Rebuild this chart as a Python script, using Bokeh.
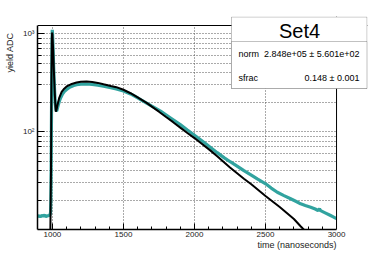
from bokeh.plotting import figure
from bokeh.models import (Range1d, FixedTicker, CustomJSTickFormatter, Label, BoxAnnotation,
                          Span, Title)
from bokeh.embed import file_html
from bokeh.resources import INLINE

# ---- data ----
data_t = [895, 905, 915, 925, 935, 945, 955, 965, 975, 983, 987, 989, 991, 993, 995, 997,
          999, 1001, 1004, 1008, 1012, 1016, 1020, 1025, 1029, 1033, 1040, 1050, 1060, 1071,
          1085, 1100, 1115, 1130, 1150, 1170, 1200, 1240, 1280, 1320, 1360, 1411, 1450, 1500,
          1550, 1600, 1663, 1700, 1761, 1832, 1900, 1950, 2000, 2066, 2113, 2160, 2210, 2254,
          2300, 2348, 2400, 2442, 2501, 2540, 2583, 2630, 2677, 2720, 2747, 2780, 2818, 2850,
          2870, 2880, 2888, 2920, 2958, 2980, 3000]
data_y = [13.6, 13.8, 13.5, 13.9, 13.7, 14.0, 13.6, 13.8, 13.9, 14.1, 15, 20, 40, 110, 350, 800,
          1100, 1000, 760, 500, 340, 250, 195, 168, 162, 168, 185, 207, 225, 242,
          258, 270, 280, 288, 296, 302, 306, 307, 304, 299, 291, 281, 273, 260,
          243, 222, 196, 182, 162, 138, 118, 104, 92, 78, 69, 61, 54, 49,
          44.5, 40, 36, 32.9, 29.3, 26.5, 24, 22.2, 20.6, 19.2, 18.3, 17.6, 16.9, 16.2,
          15.6, 16.3, 15.6, 14.8, 13.9, 13.4, 12.9]

fit_t = [985, 990, 993, 996, 998, 1000, 1005, 1010, 1015, 1020, 1024, 1028, 1035, 1048, 1065,
         1083, 1100, 1130, 1170, 1200, 1240, 1280, 1320, 1360, 1411, 1450, 1500, 1550, 1600,
         1663, 1700, 1750, 1800, 1850, 1900, 1950, 2000, 2113, 2160, 2250, 2348, 2400, 2500,
         2600, 2700, 2747, 2800, 2900]
fit_y = [8, 40, 300, 900, 1030, 980, 700, 430, 280, 195, 160, 165, 185, 222, 255,
         275, 290, 305, 318, 324, 326, 322, 315, 305, 293, 285, 268, 247, 224,
         197, 180, 160, 141, 125, 110, 97, 86, 64, 56, 43, 33, 29, 22,
         17, 12.8, 10.8, 9.0, 7]

x_major = [1000, 1500, 2000, 2500, 3000]
x_minor = [1100, 1200, 1300, 1400, 1600, 1700, 1800, 1900, 2100, 2200, 2300, 2400,
           2600, 2700, 2800, 2900]
y_major = [100, 1000]
y_minor = [20, 30, 40, 50, 60, 70, 80, 90, 200, 300, 400, 500, 600, 700, 800, 900]

title_text = "Set4"
stat_names = ["norm", "sfrac"]
stat_values = ["2.848e+05 \u00b1 5.601e+02", "0.148 \u00b1 0.001"]
x_title = "time (nanoseconds)"
y_title = "yield ADC"

# visible axes limits; the frame itself is a bit larger so the stats box can overlap it
X0, X1 = 895, 3000
Y0, Y1 = 10, 1216
X_EXT, Y_EXT = 3218, 1503

FONT = "Liberation Sans"

p = figure(width=374, height=255, x_range=Range1d(X0, X_EXT), y_range=Range1d(Y0, Y_EXT),
           y_axis_type="log", output_backend="svg", toolbar_location=None,
           min_border_left=37, min_border_right=7, min_border_top=16, min_border_bottom=26)
p.background_fill_color = "white"
p.border_fill_color = "white"
p.outline_line_color = None

xt = FixedTicker(ticks=x_major, minor_ticks=x_minor)
yt = FixedTicker(ticks=y_major, minor_ticks=y_minor)
p.xaxis.ticker = xt
p.yaxis.ticker = yt
p.xaxis.bounds = (X0, X1)
p.yaxis.bounds = (Y0, Y1)
p.xgrid.ticker = FixedTicker(ticks=[1000, 1500, 2000, 2500])
p.ygrid.ticker = yt

p.yaxis.formatter = CustomJSTickFormatter(code="""
const sup = {'0':'\u2070','1':'\u00b9','2':'\u00b2','3':'\u00b3','4':'\u2074','5':'\u2075','6':'\u2076','7':'\u2077','8':'\u2078','9':'\u2079'};
const e = Math.round(Math.log10(tick)).toString();
return '10' + e.split('').map(c => sup[c]).join('');
""")

for ax in (p.xaxis[0], p.yaxis[0]):
    ax.axis_line_color = "black"
    ax.axis_line_width = 1.5
    ax.major_tick_out = 0
    ax.minor_tick_out = 0
    ax.major_tick_line_color = "black"
    ax.minor_tick_line_color = "black"
    ax.major_label_text_font = FONT
    ax.major_label_text_font_size = "8px"
    ax.major_label_text_color = "#222222"
p.xaxis.major_tick_in = 6
p.xaxis.minor_tick_in = 3
p.yaxis.major_tick_in = 7
p.yaxis.minor_tick_in = 4
p.xaxis.major_label_standoff = 2
p.yaxis.major_label_standoff = 3

for g in (p.xgrid[0], p.ygrid[0]):
    g.grid_line_color = "#555555"
    g.grid_line_dash = "1 2"
    g.grid_line_width = 1
p.ygrid.minor_grid_line_color = "#555555"
p.ygrid.minor_grid_line_dash = "1 2"

p.line(data_t, data_y, line_color="#31a39f", line_width=3.2)
p.line(fit_t, fit_y, line_color="black", line_width=2)

# blank out the frame area beyond the visible axes
p.add_layout(BoxAnnotation(left=X1, fill_color="white", fill_alpha=1, line_color=None))
p.add_layout(BoxAnnotation(bottom=Y1, fill_color="white", fill_alpha=1, line_color=None))
# top and right frame edges
p.add_layout(Span(location=X1, dimension="height", line_color="black", line_width=1))
p.add_layout(Span(location=Y1, dimension="width", line_color="black", line_width=1))

# axis titles
p.add_layout(Title(text=x_title, align="right", offset=31, standoff=0, vertical_align="top",
                   text_font=FONT, text_font_size="9px", text_font_style="normal",
                   text_color="#222222"), "below")
p.add_layout(Title(text=y_title, align="right", offset=16, standoff=6, vertical_align="top",
                   text_font=FONT, text_font_size="9px", text_font_style="normal",
                   text_color="#222222"), "left")

# stats box
p.add_layout(BoxAnnotation(left=194, right=329.5, top=212.5, bottom=141,
                           left_units="screen", right_units="screen", top_units="screen",
                           bottom_units="screen",
                           fill_color="white", fill_alpha=1, line_color="#333333", line_width=1))
p.add_layout(BoxAnnotation(left=194, right=329.5, top=188, bottom=141,
                           left_units="screen", right_units="screen", top_units="screen",
                           bottom_units="screen",
                           fill_color="white", fill_alpha=1, line_color="#333333", line_width=1))
p.add_layout(Label(x=262, y=199, x_units="screen", y_units="screen", text=title_text,
                   text_align="center", text_baseline="middle",
                   text_font=FONT, text_font_size="20px", text_color="black"))
for i, (n, v) in enumerate(zip(stat_names, stat_values)):
    yy = 176 - i * 24
    p.add_layout(Label(x=201, y=yy, x_units="screen", y_units="screen", text=n,
                       text_align="left", text_baseline="middle",
                       text_font=FONT, text_font_size="9px", text_color="black"))
    p.add_layout(Label(x=322, y=yy, x_units="screen", y_units="screen", text=v,
                       text_align="right", text_baseline="middle",
                       text_font=FONT, text_font_size="9px", text_color="black"))

open("out.html", "w").write(file_html(p, INLINE))
